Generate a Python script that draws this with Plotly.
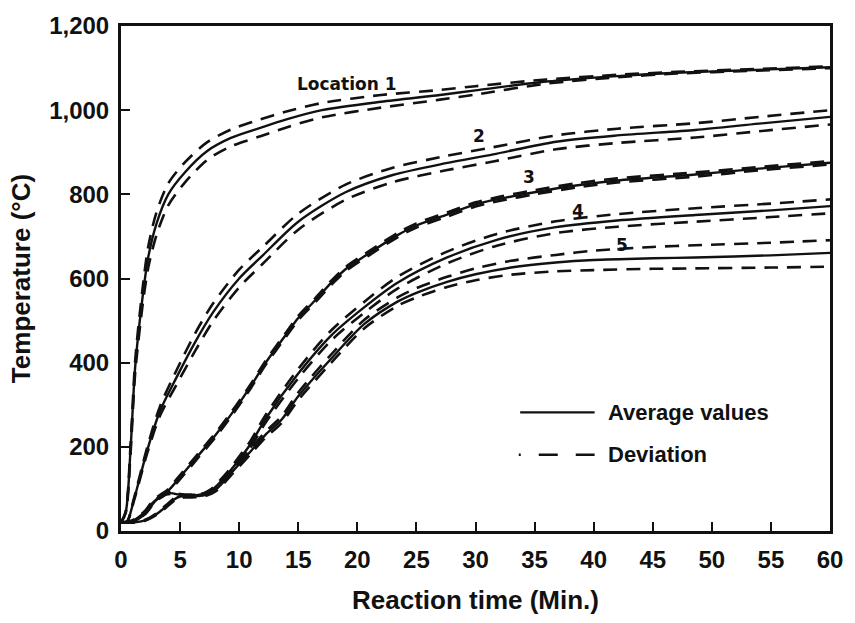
import plotly.graph_objects as go

# ---------------- data ----------------
x1 = [0, 0.4, 0.8, 1.2, 1.8, 2.3, 3, 4, 5.4, 7.3, 9.3, 11.8, 14, 17, 22, 27, 30, 36, 42, 47, 53, 60]
avg1 = [20, 45, 190, 390, 550, 650, 730, 800, 852, 903, 934, 958, 978, 1000, 1020, 1036, 1047, 1068, 1081, 1089, 1095, 1102]
up1 = [20, 47, 200, 405, 570, 675, 757, 826, 876, 924, 954, 978, 997, 1017, 1036, 1048, 1057, 1073, 1084, 1091, 1097, 1104]
lo1 = [20, 43, 180, 375, 530, 625, 703, 774, 828, 882, 914, 938, 959, 983, 1006, 1025, 1037, 1063, 1078, 1087, 1093, 1100]

x2 = [0, 0.5, 1.1, 2.2, 3.3, 4.7, 6.3, 7.8, 10, 12, 15, 19, 23, 27.5, 31.5, 36.8, 42, 48.6, 54, 60]
avg2 = [20, 22, 75, 190, 285, 365, 450, 520, 600, 655, 735, 805, 846, 874, 895, 925, 940, 953, 968, 984]
up2 = [20, 22, 78, 197, 296, 382, 471, 541, 621, 675, 754, 823, 863, 891, 912, 940, 956, 969, 984, 1000]
lo2 = [20, 22, 72, 183, 274, 348, 429, 499, 579, 635, 716, 787, 829, 857, 878, 907, 922, 935, 950, 966]

x3 = [0, 1, 2, 2.5, 3.2, 3.9, 5, 6.5, 8, 9.4, 11, 12.2, 14, 15, 16.5, 17.8, 19, 21, 23.4, 25, 27.6, 30, 32, 35, 38.5, 42, 48.6, 54, 60]
avg3 = [20, 25, 45, 62, 80, 93, 128, 178, 228, 280, 345, 398, 468, 506, 550, 590, 622, 660, 703, 726, 752, 776, 789, 805, 821, 833, 847, 861, 875]
up3 = [20, 26, 47, 65, 84, 97, 133, 183, 233, 285, 350, 403, 473, 511, 555, 595, 627, 665, 708, 731, 757, 781, 794, 810, 826, 838, 852, 865, 879]
lo3 = [20, 24, 43, 59, 76, 89, 123, 173, 223, 275, 340, 393, 463, 501, 545, 585, 617, 655, 698, 721, 747, 771, 784, 800, 816, 828, 842, 857, 871]

x4 = [0, 1, 2, 2.8, 3.5, 4.2, 5, 6, 7, 7.6, 8, 9, 10, 11, 12.2, 15, 17.8, 20.6, 23.4, 27.6, 31.8, 36.8, 42, 48.6, 55, 60]
avg4 = [20, 22, 40, 68, 86, 90, 86, 84, 88, 96, 105, 135, 170, 208, 265, 374, 465, 532, 590, 650, 692, 722, 738, 751, 762, 772]
up4 = [20, 22, 41, 70, 88, 92, 88, 86, 90, 99, 109, 140, 177, 216, 274, 385, 477, 545, 604, 664, 706, 736, 753, 767, 778, 788]
lo4 = [20, 22, 39, 66, 84, 88, 84, 82, 86, 93, 101, 130, 163, 200, 256, 363, 453, 519, 576, 636, 678, 708, 723, 735, 746, 755]

x5 = [0, 1, 2, 3, 3.8, 4.5, 5, 6, 7, 8, 9.4, 11, 12.2, 13.6, 15, 17.8, 20.6, 23.4, 25, 27.6, 30, 33, 36.8, 40, 45, 48.6, 55, 60]
avg5 = [20, 20, 25, 40, 58, 75, 82, 83, 85, 98, 140, 190, 228, 265, 320, 410, 492, 545, 566, 592, 610, 626, 638, 644, 648, 650, 655, 661]
up5 = [20, 20, 26, 42, 61, 78, 85, 86, 88, 102, 145, 196, 235, 273, 329, 420, 502, 555, 577, 604, 624, 642, 656, 666, 675, 679, 685, 691]
lo5 = [20, 20, 24, 38, 55, 72, 79, 80, 82, 94, 135, 184, 221, 257, 311, 400, 482, 535, 555, 580, 596, 609, 617, 620, 623, 624, 626, 628]

curve_labels = ["Location 1", "2", "3", "4", "5"]
label_x = [19.1, 30.3, 34.5, 38.7, 42.4]
label_y = [1063, 939, 842, 760, 680]

x_ticks = list(range(0, 61, 5))
y_ticks = [0, 200, 400, 600, 800, 1000, 1200]

series = [(x1, avg1, up1, lo1), (x2, avg2, up2, lo2), (x3, avg3, up3, lo3),
          (x4, avg4, up4, lo4), (x5, avg5, up5, lo5)]

FONT = "Liberation Sans, Arial, sans-serif"
BLACK = "#111111"

fig = go.Figure()
for xs, av, up, lo in series:
    for dev in (up, lo):
        fig.add_trace(go.Scatter(x=xs, y=dev, mode="lines", showlegend=False,
                                 line=dict(color=BLACK, width=2.6, dash="14px,9px",
                                           shape="spline", smoothing=0.8),
                                 hoverinfo="skip"))
    fig.add_trace(go.Scatter(x=xs, y=av, mode="lines", showlegend=False,
                             line=dict(color=BLACK, width=2.4, shape="spline", smoothing=0.8)))

for t, lx, ly in zip(curve_labels, label_x, label_y):
    fig.add_annotation(x=lx, y=ly, text=t, showarrow=False,
                       font=dict(family="DejaVu Sans", size=17, color=BLACK, weight="bold"))

# legend (drawn manually)
fig.add_shape(type="line", xref="paper", yref="paper", x0=0.563, x1=0.668, y0=0.235, y1=0.235,
              line=dict(color=BLACK, width=2.4))
fig.add_shape(type="line", xref="paper", yref="paper", x0=0.561, x1=0.668, y0=0.151, y1=0.151,
              line=dict(color=BLACK, width=2.6, dash="2px,18px,19px,18px,19px"))
fig.add_annotation(xref="paper", yref="paper", x=0.684, y=0.235, xanchor="left", yanchor="middle",
                   text="Average values", showarrow=False,
                   font=dict(family=FONT, size=22, color=BLACK, weight="bold"))
fig.add_annotation(xref="paper", yref="paper", x=0.684, y=0.151, xanchor="left", yanchor="middle",
                   text="Deviation", showarrow=False,
                   font=dict(family=FONT, size=22, color=BLACK, weight="bold"))

axis_common = dict(showline=True, linewidth=3, linecolor=BLACK, mirror=True,
                   ticks="inside", ticklen=9, tickwidth=2, tickcolor=BLACK,
                   showgrid=False, zeroline=False,
                   tickfont=dict(family=FONT, size=24, color=BLACK, weight="bold"))

fig.update_xaxes(range=[0, 60], tickvals=x_ticks, ticklabelstandoff=5,
                 title=dict(text="Reaction time (Min.)", standoff=20,
                            font=dict(family=FONT, size=26, color=BLACK, weight="bold")),
                 **axis_common)
fig.update_yaxes(range=[0, 1200], tickvals=y_ticks, tickformat=",d", ticklabelstandoff=4,
                 title=dict(text="Temperature (°C)", standoff=12,
                            font=dict(family=FONT, size=26, color=BLACK, weight="bold")),
                 **axis_common)

fig.update_layout(width=855, height=623, margin=dict(l=121, r=17, t=22, b=91),
                  paper_bgcolor="white", plot_bgcolor="white", showlegend=False)

fig.write_html("out.html")
